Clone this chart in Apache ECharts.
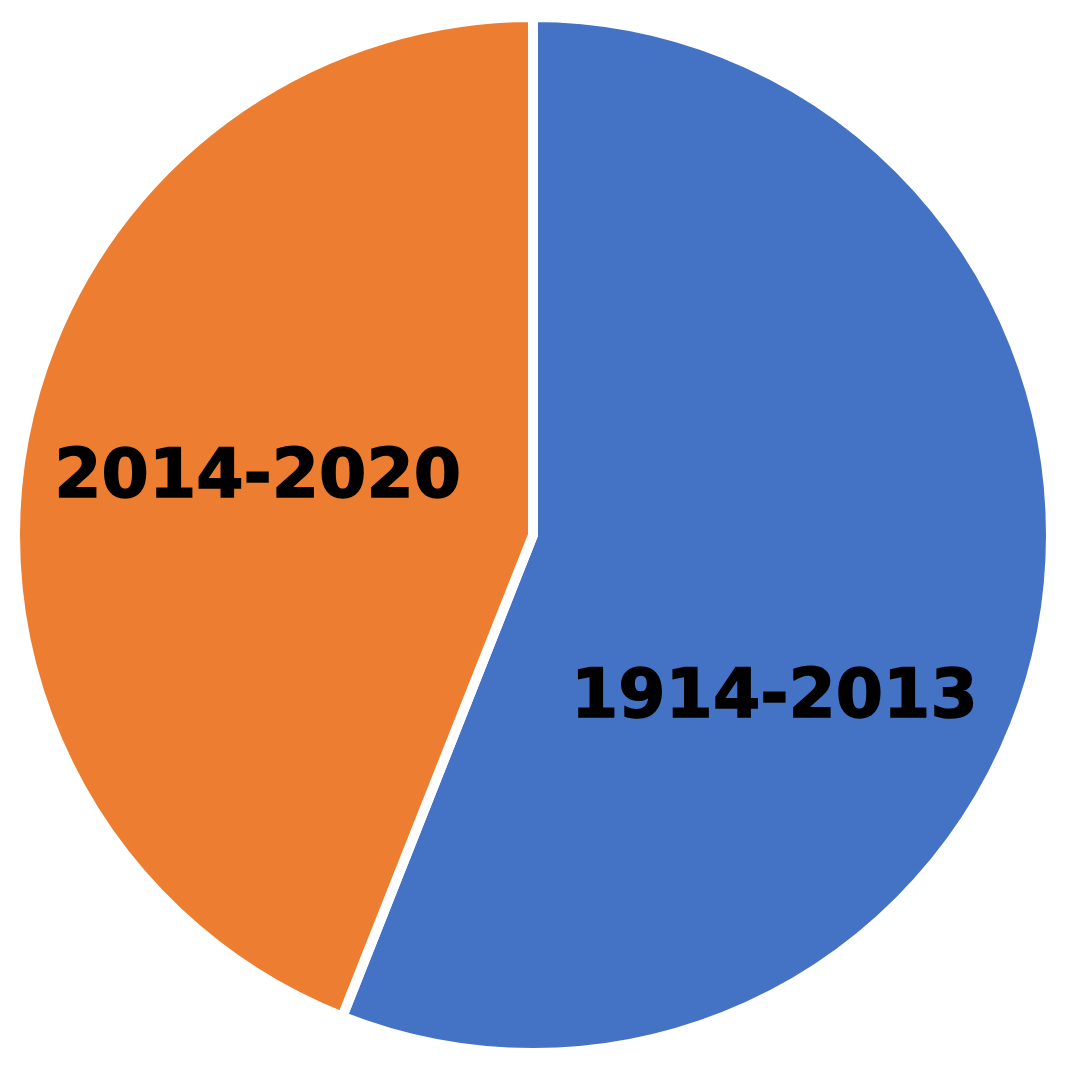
<!DOCTYPE html>
<html>
<head>
<meta charset="utf-8">
<script src="https://cdn.jsdelivr.net/npm/echarts@6/dist/echarts.min.js"></script>
<style>
  html, body { margin: 0; padding: 0; background: #fff; }
  #chart { width: 1079px; height: 1070px; }
</style>
</head>
<body>
<div id="chart"></div>
<script>
// periods and their shares
const categories = ['1914-2013', '2014-2020'];
const values = [56, 44];
const colors = ['#4472C4', '#ED7D31'];
// nudge labels from the default mid-slice spot
const labelShift = [[-16, 115], [-18, -7]];

const chart = echarts.init(document.getElementById('chart'));

const option = {
  animation: false,
  series: [
    {
      type: 'pie',
      center: [533, 535],
      radius: 518,
      startAngle: 90,
      clockwise: true,
      silent: true,
      itemStyle: {
        borderColor: '#fff',
        borderWidth: 10
      },
      label: {
        show: true,
        position: 'inside',
        fontFamily: 'DejaVu Sans',
        fontWeight: 'bold',
        fontSize: 68,
        color: '#000',
        textBorderColor: '#000',
        textBorderWidth: 1.5
      },
      labelLine: { show: false },
      labelLayout: function (params) {
        const s = labelShift[params.dataIndex];
        return { dx: s[0], dy: s[1] };
      },
      data: categories.map((name, i) => ({
        name,
        value: values[i],
        itemStyle: { color: colors[i] }
      }))
    }
  ]
};

chart.setOption(option);
</script>
</body>
</html>
